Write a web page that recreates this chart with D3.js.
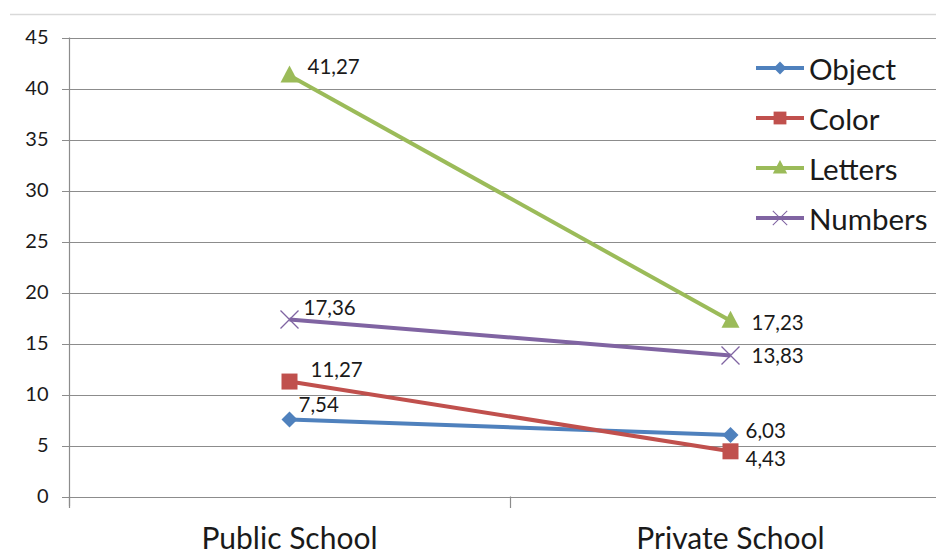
<!DOCTYPE html>
<html><head><meta charset="utf-8">
<script src="https://cdn.jsdelivr.net/npm/d3@7"></script>
<style>body{margin:0;background:#fff}svg{display:block}text{font-family:Lato,"Liberation Sans",sans-serif;fill:#1a1a1a}</style>
</head><body>
<svg id="c" width="936" height="549"></svg>
<script>
const categories = ["Public School", "Private School"];
const seriesNames = ["Object", "Color", "Letters", "Numbers"];
const objectValues = [7.54, 6.03];
const colorValues = [11.27, 4.43];
const lettersValues = [41.27, 17.23];
const numbersValues = [17.36, 13.83];
const yTicks = [0, 5, 10, 15, 20, 25, 30, 35, 40, 45];
const seriesColors = ["#4F81BD", "#C0504D", "#9BBB59", "#8064A2"];
const markerTypes = ["diamond", "square", "triangle", "cross"];
// label offsets [dx, dy] per series per category
const labelOffsets = [
  [[9, -16], [15, -5]],
  [[21, -13], [15, 7]],
  [[18, -10], [21, 1]],
  [[14, -12], [21, 0]]
];
const fmt = v => v.toFixed(2).replace(".", ",");

const series = [objectValues, colorValues, lettersValues, numbersValues];
const svg = d3.select("#c");
const x = d3.scaleBand().domain(categories).range([69, 951]).padding(0);
const y = d3.scaleLinear().domain([0, 45]).range([496.5, 37.5]);

// top border line
svg.append("line").attr("x1", 10).attr("x2", 936).attr("y1", 14.5).attr("y2", 14.5)
  .attr("stroke", "#d9d9d9").attr("stroke-width", 1.5);

// grid
svg.append("g").selectAll("line").data(yTicks).join("line")
  .attr("x1", 62).attr("x2", 951)
  .attr("y1", d => Math.round(y(d)) + 0.5).attr("y2", d => Math.round(y(d)) + 0.5)
  .attr("stroke", "#8c8c8c").attr("stroke-width", 1.2);

// y axis
const yAxis = d3.axisLeft(y).tickValues(yTicks).tickSize(0).tickPadding(21);
const gy = svg.append("g").attr("transform", "translate(69.5,0)").call(yAxis);
gy.select(".domain").remove();
gy.selectAll("text").style("font-size", "20px").attr("fill", "#1a1a1a");
svg.append("line").attr("x1", 69.5).attr("x2", 69.5).attr("y1", y(45)).attr("y2", 506)
  .attr("stroke", "#8c8c8c").attr("stroke-width", 1.2);

// x axis ticks at band boundaries
const bounds = categories.map(c => x(c)).concat([x.range()[1]]);
svg.append("g").selectAll("line").data(bounds).join("line")
  .attr("x1", d => Math.round(d) + 0.5).attr("x2", d => Math.round(d) + 0.5)
  .attr("y1", y(0)).attr("y2", 508)
  .attr("stroke", "#8c8c8c").attr("stroke-width", 1.2);
svg.append("g").selectAll("text").data(categories).join("text")
  .attr("x", d => x(d) + x.bandwidth() / 2).attr("y", 549)
  .attr("text-anchor", "middle").style("font-size", "30px").text(d => d);

const cx = c => x(c) + x.bandwidth() / 2;

function drawMarker(g, type, color) {
  if (type === "diamond") g.append("path").attr("d", "M0,-8L8,0L0,8L-8,0Z").attr("fill", color);
  else if (type === "square") g.append("rect").attr("x", -8).attr("y", -8).attr("width", 16).attr("height", 16).attr("fill", color);
  else if (type === "triangle") g.append("path").attr("d", "M0,-10L9,7L-9,7Z").attr("fill", color);
  else g.append("path").attr("d", "M-9,-9L9,9M-9,9L9,-9").attr("stroke", color).attr("stroke-width", 1.3).attr("fill", "none");
}

const line = d3.line().x((d, i) => cx(categories[i])).y(d => y(d));
series.forEach((vals, si) => {
  svg.append("path").datum(vals).attr("d", line).attr("fill", "none")
    .attr("stroke", seriesColors[si]).attr("stroke-width", 4).attr("stroke-linejoin", "round");
});
series.forEach((vals, si) => {
  vals.forEach((v, ci) => {
    const g = svg.append("g").attr("transform", `translate(${cx(categories[ci])},${y(v)})`);
    drawMarker(g, markerTypes[si], seriesColors[si]);
  });
});
series.forEach((vals, si) => {
  vals.forEach((v, ci) => {
    const [dx, dy] = labelOffsets[si][ci];
    svg.append("text").attr("x", cx(categories[ci]) + dx).attr("y", y(v) + dy)
      .attr("dominant-baseline", "central").style("font-size", "20.5px").text(fmt(v));
  });
});

// legend
const lg = svg.append("g");
seriesNames.forEach((n, i) => {
  const yy = 68 + i * 50;
  const g = lg.append("g").attr("transform", `translate(0,${yy})`);
  g.append("line").attr("x1", 756).attr("x2", 804).attr("y1", 0).attr("y2", 0)
    .attr("stroke", seriesColors[i]).attr("stroke-width", 4);
  const m = g.append("g").attr("transform", "translate(780,0) scale(0.8)");
  drawMarker(m, markerTypes[i], seriesColors[i]);
  g.append("text").attr("x", 809).attr("y", 0).attr("dominant-baseline", "central")
    .style("font-size", "29.5px").text(n);
});
</script>
</body></html>
